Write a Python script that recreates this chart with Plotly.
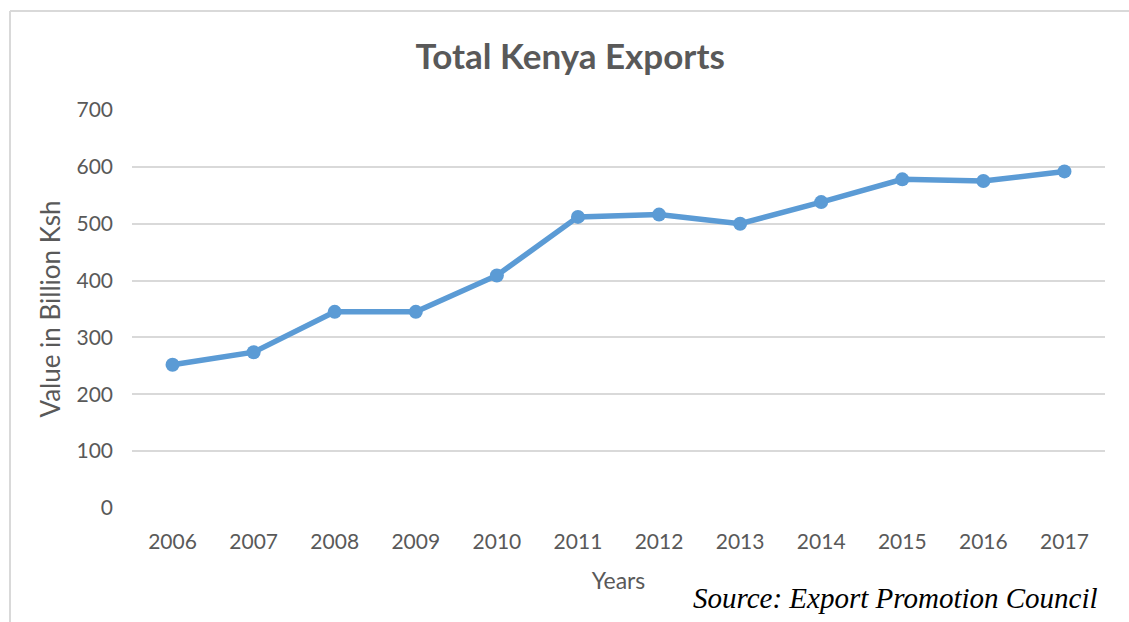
import plotly.graph_objects as go

years = ["2006", "2007", "2008", "2009", "2010", "2011", "2012", "2013", "2014", "2015", "2016", "2017"]
exports = [252, 274, 345, 345, 409, 512, 516, 500, 538, 578, 575, 592]
y_ticks = [0, 100, 200, 300, 400, 500, 600, 700]

FONT = "Lato, 'Open Sans', sans-serif"
GREY = "#595959"

fig = go.Figure()
fig.add_trace(go.Scatter(
    x=years, y=exports, mode="lines+markers",
    line=dict(color="#5B9BD5", width=5.5),
    marker=dict(color="#5B9BD5", size=14),
    showlegend=False, cliponaxis=False,
))

fig.update_layout(
    width=1129, height=622,
    margin=dict(l=132, r=24, t=110, b=114),
    paper_bgcolor="white", plot_bgcolor="white",
    font=dict(family=FONT, color=GREY, size=21),
    title=dict(text="<b>Total Kenya Exports</b>", x=0.505, xref="container", xanchor="center",
               y=1 - 57 / 622, yref="container", yanchor="middle",
               font=dict(family=FONT, size=35, color=GREY)),
    xaxis=dict(type="category", range=[-0.5, 11.5], showgrid=False, zeroline=False,
               showline=False, ticks="", ticklabelstandoff=19, tickfont=dict(size=21, color=GREY),
               title=dict(text="Years", font=dict(size=23, color=GREY), standoff=20)),
    yaxis=dict(range=[0, 700], tickvals=y_ticks, showgrid=True, gridcolor="#d9d9d9", gridwidth=2,
               zeroline=False, showline=False, ticks="", ticklabelstandoff=18,
               tickfont=dict(size=21, color=GREY),
               title=dict(text="Value in Billion Ksh", font=dict(size=26, color=GREY), standoff=8)),
    shapes=[
        dict(type="line", xref="paper", yref="paper", x0=(10 - 132) / 973, x1=(1135 - 132) / 973,
             y0=(508 - 11) / 398, y1=(508 - 11) / 398, line=dict(color="#d9d9d9", width=2)),
        dict(type="line", xref="paper", yref="paper", x0=(10 - 132) / 973, x1=(10 - 132) / 973,
             y0=(508 - 11) / 398, y1=(508 - 630) / 398, line=dict(color="#d9d9d9", width=2)),
    ],
    annotations=[
        dict(text="<i>Source: Export Promotion Council</i>", xref="paper", yref="paper",
             x=(1100 - 132) / 973, y=(508 - 598) / 398, xanchor="right", yanchor="middle",
             showarrow=False, font=dict(family="'Liberation Serif', 'Times New Roman', serif",
                                        size=29, color="#000000")),
    ],
)

fig.write_html("out.html")
